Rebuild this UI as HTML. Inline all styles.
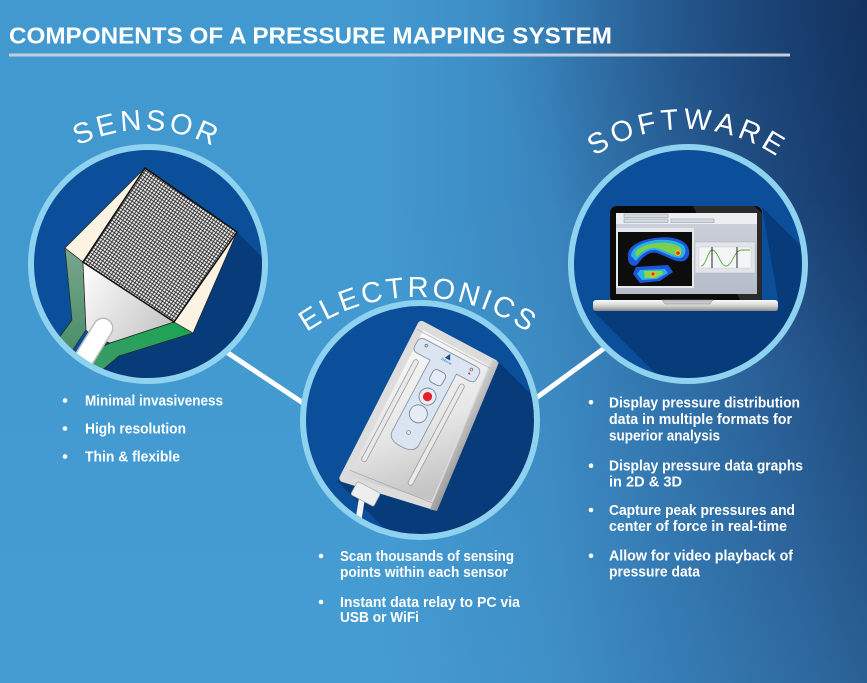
<!DOCTYPE html>
<html><head><meta charset="utf-8"><style>html,body{margin:0;padding:0;width:867px;height:683px;overflow:hidden;background:#3f94cc}svg{display:block}</style></head><body>
<svg width="867" height="683" viewBox="0 0 867 683" xmlns="http://www.w3.org/2000/svg">
<defs>
<linearGradient id="bg" gradientUnits="userSpaceOnUse" x1="380" y1="0" x2="867" y2="0">
<stop offset="0" stop-color="#4299d0"/><stop offset="0.35" stop-color="#3a86bf"/><stop offset="0.62" stop-color="#2c68a1"/><stop offset="0.85" stop-color="#214f86"/><stop offset="1" stop-color="#173d6e"/></linearGradient>
<radialGradient id="tr" gradientUnits="userSpaceOnUse" cx="867" cy="0" r="380"><stop offset="0" stop-color="#0f2a55" stop-opacity="0.55"/><stop offset="1" stop-color="#0f2a55" stop-opacity="0"/></radialGradient>
<linearGradient id="bl" gradientUnits="userSpaceOnUse" x1="0" y1="200" x2="0" y2="683"><stop offset="0" stop-color="#4aa2d8" stop-opacity="0"/><stop offset="1" stop-color="#4aa2d8" stop-opacity="0.35"/></linearGradient>
<clipPath id="c1"><circle cx="148" cy="264" r="115"/></clipPath>
<clipPath id="c2"><circle cx="420" cy="420" r="115"/></clipPath>
<clipPath id="c3"><circle cx="688" cy="264" r="115"/></clipPath>
<pattern id="mesh" width="3" height="3" patternUnits="userSpaceOnUse" patternTransform="rotate(34)"><rect width="3" height="3" fill="#1c1c1c"/><rect x="0.4" y="0.4" width="2.2" height="2.2" fill="#ececec"/></pattern>
<linearGradient id="gL" x1="0" y1="0" x2="0" y2="1"><stop offset="0" stop-color="#7aa58e"/><stop offset="1" stop-color="#3e8a60"/></linearGradient>
<linearGradient id="gB" x1="1" y1="0" x2="0" y2="1"><stop offset="0" stop-color="#17a652"/><stop offset="1" stop-color="#4e9470"/></linearGradient>
<linearGradient id="wT" x1="0" y1="0" x2="1" y2="0.6"><stop offset="0" stop-color="#ffffff"/><stop offset="1" stop-color="#c9c9c9"/></linearGradient>
<linearGradient id="dev" x1="0" y1="0" x2="0.6" y2="1"><stop offset="0" stop-color="#fafafa"/><stop offset="0.6" stop-color="#e6e6e6"/><stop offset="1" stop-color="#c4c4c4"/></linearGradient>
<linearGradient id="side" x1="0" y1="0" x2="1" y2="0"><stop offset="0" stop-color="#d0d0d0"/><stop offset="1" stop-color="#979797"/></linearGradient>
<linearGradient id="base" x1="0" y1="0" x2="0" y2="1"><stop offset="0" stop-color="#fbfbfb"/><stop offset="0.5" stop-color="#d6d6d6"/><stop offset="1" stop-color="#8a8a8a"/></linearGradient>
<linearGradient id="scr" x1="0" y1="0" x2="0" y2="1"><stop offset="0" stop-color="#cdd2dc"/><stop offset="1" stop-color="#b5bcc8"/></linearGradient>
<path id="aS" d="M15.1,205 A150,150 0 0 1 274.9,205"/>
<path id="aE" d="M252.5,392 A190,190 0 0 1 581.5,392"/>
<path id="aW" d="M542.6,211.5 A165,165 0 0 1 828.4,211.5"/>
</defs>

<rect width="867" height="683" fill="url(#bg)"/>
<rect width="867" height="683" fill="url(#tr)"/>
<rect width="867" height="683" fill="url(#bl)"/>

<!-- title -->
<text x="9" y="43.3" font-family="Liberation Sans, sans-serif" font-weight="700" font-size="23.5" fill="#ffffff" textLength="603" lengthAdjust="spacingAndGlyphs">COMPONENTS OF A PRESSURE MAPPING SYSTEM</text>
<rect x="9" y="53.5" width="781" height="3" fill="#c3cddb"/>

<!-- connectors -->
<line x1="222" y1="349" x2="306" y2="405" stroke="#ffffff" stroke-width="5"/>
<line x1="532" y1="401" x2="610" y2="344" stroke="#ffffff" stroke-width="5"/>

<!-- SENSOR circle -->
<g clip-path="url(#c1)">
<circle cx="148" cy="264" r="115" fill="#0b4e9a"/>
<polygon points="237,232 437,432 297,570 97,370 117,355 193,333" fill="#073b7a"/>
<polygon points="65,248 83,262 86,330 74,348 58,375 38,375 56,342 72,320" fill="url(#gL)" stroke="#1d2d24" stroke-width="0.7"/>
<polygon points="174,322 193,333 119,356 100,372 82,395 60,395 85,355 110,343" fill="url(#gB)" stroke="#1d2d24" stroke-width="0.7"/>
<polygon points="83,262 174,322 110,343 93,338 86,330" fill="url(#wT)" stroke="#222" stroke-width="0.7"/>
<polygon points="65,248 145,168 83,262" fill="#fdf3e2" stroke="#222" stroke-width="0.7"/>
<polygon points="237,232 193,333 174,322" fill="#fdf3e2" stroke="#222" stroke-width="0.7"/>
<line x1="103" y1="328" x2="66" y2="388" stroke="#bcbcbc" stroke-width="21" stroke-linecap="round"/>
<line x1="103" y1="328" x2="66" y2="388" stroke="#ffffff" stroke-width="18" stroke-linecap="round"/>
<polygon points="145,168 237,232 174,322 83,262" fill="url(#mesh)" stroke="#111" stroke-width="1.5"/>
</g>
<circle cx="148" cy="264" r="117" fill="none" stroke="#8fd2f0" stroke-width="6"/>

<!-- ELECTRONICS circle -->
<g clip-path="url(#c2)">
<circle cx="420" cy="420" r="115" fill="#0b4e9a"/>
<polygon points="499,362 649,512 587,662 487,631 337,481" fill="#073b7a"/>
<line x1="362" y1="498" x2="352" y2="560" stroke="#f2f2f2" stroke-width="6"/>
<g transform="translate(447,360) rotate(28)">
<path d="M-39,-19 L43,-19 L57,135 L-36,153 Z" fill="url(#dev)" stroke="#dcdcdc" stroke-width="8" stroke-linejoin="round"/>
<path d="M40,-22 L47,-22 L62,138 L55,140 Z" fill="url(#side)"/>
<line x1="-41" y1="-13" x2="46" y2="-13" stroke="#b9b9b9" stroke-width="0.8"/>
<line x1="-34" y1="143" x2="55" y2="133" stroke="#a9a9a9" stroke-width="0.8"/>
<rect x="-29" y="14" width="5" height="115" rx="2.5" fill="#e9e9e9" stroke="#9b9b9b" stroke-width="0.8"/>
<rect x="23" y="14" width="5" height="114" rx="2.5" fill="#e9e9e9" stroke="#9b9b9b" stroke-width="0.8"/>
<path d="M-35,-2 Q-35,-8 -29,-8 L29,-8 Q35,-8 35,-2 L35,3 Q35,8 29,8 L15,8 L15,88 Q15,98 0,98 Q-15,98 -15,88 L-15,8 L-29,8 Q-35,8 -35,3 Z" fill="#dbe5f2" stroke="#8d96a3" stroke-width="0.9"/>
<polygon points="0,-7 -3,-1 3,-1" fill="#1c4e9c"/>
<text x="0" y="2.5" font-family="Liberation Serif, serif" font-size="3.6" fill="#1c4e9c" text-anchor="middle">Tekscan</text>
<circle cx="-25" cy="-3" r="1.4" fill="none" stroke="#555" stroke-width="0.6"/>
<circle cx="26" cy="-3" r="1.4" fill="none" stroke="#555" stroke-width="0.6"/>
<circle cx="26" cy="1.5" r="1" fill="#e3232b"/>
<rect x="-7" y="13" width="14" height="14" rx="4" fill="#e6ecf5" stroke="#7c8593" stroke-width="0.9"/>
<circle cx="0" cy="41.5" r="8.5" fill="#e6ecf5" stroke="#7c8593" stroke-width="0.9"/>
<circle cx="0" cy="41.5" r="4.6" fill="#e8202a"/>
<circle cx="0" cy="61" r="9" fill="#e6ecf5" stroke="#7c8593" stroke-width="0.9"/>
<circle cx="0" cy="82" r="2" fill="none" stroke="#777" stroke-width="0.6"/>
<rect x="-22" y="149" width="26" height="15" rx="2" fill="#eeeeee" stroke="#a0a0a0" stroke-width="0.7"/>
</g>
</g>
<circle cx="420" cy="420" r="117" fill="none" stroke="#8fd2f0" stroke-width="6"/>

<!-- SOFTWARE circle -->
<g clip-path="url(#c3)">
<circle cx="688" cy="264" r="115" fill="#0b4e9a"/>
<polygon points="762,207 862,307 862,411 693,411 593,311 778,311 778,300" fill="#073b7a"/>
<rect x="610" y="206" width="152" height="97" rx="7" fill="#0b0b0b"/>
<polygon points="693,206 754,206 762,213 762,302 741,302" fill="#2a2a2a"/>
<rect x="616" y="213" width="141" height="81" fill="url(#scr)"/>
<rect x="616" y="213" width="141" height="11" fill="#eceef2"/>
<rect x="624" y="214" width="44" height="3.5" fill="#d5d9e0" stroke="#8a93a3" stroke-width="0.5"/>
<rect x="624" y="219" width="44" height="3.5" fill="#d5d9e0" stroke="#8a93a3" stroke-width="0.5"/>
<rect x="671" y="219" width="43" height="3.5" fill="#d5d9e0" stroke="#8a93a3" stroke-width="0.5"/>
<rect x="616" y="228" width="78" height="60" fill="#e4e7ec"/>
<rect x="618" y="232" width="74" height="54" fill="#0d0d0d"/>
<path d="M628,258 C626,246 640,240 655,238 C668,236 680,238 686,244 C691,250 690,258 684,261 C676,263 668,257 657,253 C648,251 642,258 637,265 C632,267 628,264 628,258 Z" fill="#1f55d8"/>
<path d="M631,256 C631,247 643,242 656,240 C668,239 679,241 684,246 C687,251 685,257 680,258 C672,258 666,253 656,250 C647,249 641,255 636,261 Z" fill="#27b4e4"/>
<path d="M635,254 C636,248 646,244 657,243 C668,242 677,244 681,248 C683,252 680,255 676,255 C670,254 664,250 655,248 C647,248 641,252 637,257 Z" fill="#7dd04b"/>
<circle cx="678" cy="253" r="3" fill="#f3c21c"/><circle cx="678" cy="253" r="1.8" fill="#e4301f"/>
<polygon points="636,267 668,265 673,272 660,281 640,283 633,274" fill="#1f55d8"/>
<polygon points="640,270 665,269 668,273 657,279 642,280 637,274" fill="#27b4e4"/>
<polygon points="644,271 662,271 663,274 655,278 645,278" fill="#8fd646"/>
<circle cx="653" cy="274" r="2.6" fill="#f3c21c"/><circle cx="653" cy="274" r="1.6" fill="#e4301f"/>
<rect x="695" y="242" width="60" height="31" fill="#e1e4e9" stroke="#b0b6c0" stroke-width="0.5"/>
<rect x="699" y="247" width="52" height="21" fill="#f4f5f7" stroke="#c8ccd2" stroke-width="0.5"/>
<path d="M701,266 C706,266 708,250 712,250 C718,250 720,266 726,266 C732,266 734,251 741,250 L750,250" fill="none" stroke="#5aa83a" stroke-width="0.9"/>
<line x1="712" y1="247" x2="712" y2="268" stroke="#111" stroke-width="0.9"/>
<line x1="737" y1="247" x2="737" y2="268" stroke="#111" stroke-width="0.9"/>
<rect x="593" y="300" width="185" height="11" rx="3" fill="url(#base)"/>
<path d="M662,300 L713,300 L710,304 L665,304 Z" fill="#c4c7cc" stroke="#8a8a8a" stroke-width="0.5"/>
</g>
<circle cx="688" cy="264" r="117" fill="none" stroke="#8fd2f0" stroke-width="6"/>

<!-- arc labels -->
<text font-family="Liberation Sans, sans-serif" font-size="29" fill="#ffffff" letter-spacing="3.4"><textPath href="#aS" startOffset="50.6%" text-anchor="middle">SENSOR</textPath></text>
<text font-family="Liberation Sans, sans-serif" font-size="29" fill="#ffffff" letter-spacing="2.9"><textPath href="#aE" startOffset="50.4%" text-anchor="middle">ELECTRONICS</textPath></text>
<text font-family="Liberation Sans, sans-serif" font-size="29" fill="#ffffff" letter-spacing="4.2"><textPath href="#aW" startOffset="50.6%" text-anchor="middle">SOFTWARE</textPath></text>

<!-- bullets -->
<g font-family="Liberation Sans, sans-serif" font-weight="700" font-size="14.5" fill="#ffffff">
<circle cx="65" cy="400.5" r="2.3"/><text x="85" y="405.5" textLength="138" lengthAdjust="spacingAndGlyphs">Minimal invasiveness</text>
<circle cx="65" cy="428.5" r="2.3"/><text x="85" y="433.5" textLength="101" lengthAdjust="spacingAndGlyphs">High resolution</text>
<circle cx="65" cy="456.5" r="2.3"/><text x="85" y="461.5" textLength="95" lengthAdjust="spacingAndGlyphs">Thin &amp; flexible</text>

<circle cx="321" cy="556" r="2.3"/><text x="340" y="561" textLength="174" lengthAdjust="spacingAndGlyphs">Scan thousands of sensing</text>
<text x="340" y="577" textLength="168" lengthAdjust="spacingAndGlyphs">points within each sensor</text>
<circle cx="321" cy="602" r="2.3"/><text x="340" y="607" textLength="180" lengthAdjust="spacingAndGlyphs">Instant data relay to PC via</text>
<text x="340" y="622" textLength="79" lengthAdjust="spacingAndGlyphs">USB or WiFi</text>

<circle cx="591" cy="402.3" r="2.3"/><text x="609" y="407.3" textLength="191" lengthAdjust="spacingAndGlyphs">Display pressure distribution</text>
<text x="609" y="424" textLength="183" lengthAdjust="spacingAndGlyphs">data in multiple formats for</text>
<text x="609" y="440.3" textLength="111" lengthAdjust="spacingAndGlyphs">superior analysis</text>
<circle cx="591" cy="465.7" r="2.3"/><text x="609" y="470.7" textLength="194" lengthAdjust="spacingAndGlyphs">Display pressure data graphs</text>
<text x="609" y="486.7" textLength="73" lengthAdjust="spacingAndGlyphs">in 2D &amp; 3D</text>
<circle cx="591" cy="510" r="2.3"/><text x="609" y="515" textLength="186" lengthAdjust="spacingAndGlyphs">Capture peak pressures and</text>
<text x="609" y="531" textLength="178" lengthAdjust="spacingAndGlyphs">center of force in real-time</text>
<circle cx="591" cy="555.7" r="2.3"/><text x="609" y="560.7" textLength="184" lengthAdjust="spacingAndGlyphs">Allow for video playback of</text>
<text x="609" y="576.7" textLength="91" lengthAdjust="spacingAndGlyphs">pressure data</text>
</g>
</svg>
</body></html>
